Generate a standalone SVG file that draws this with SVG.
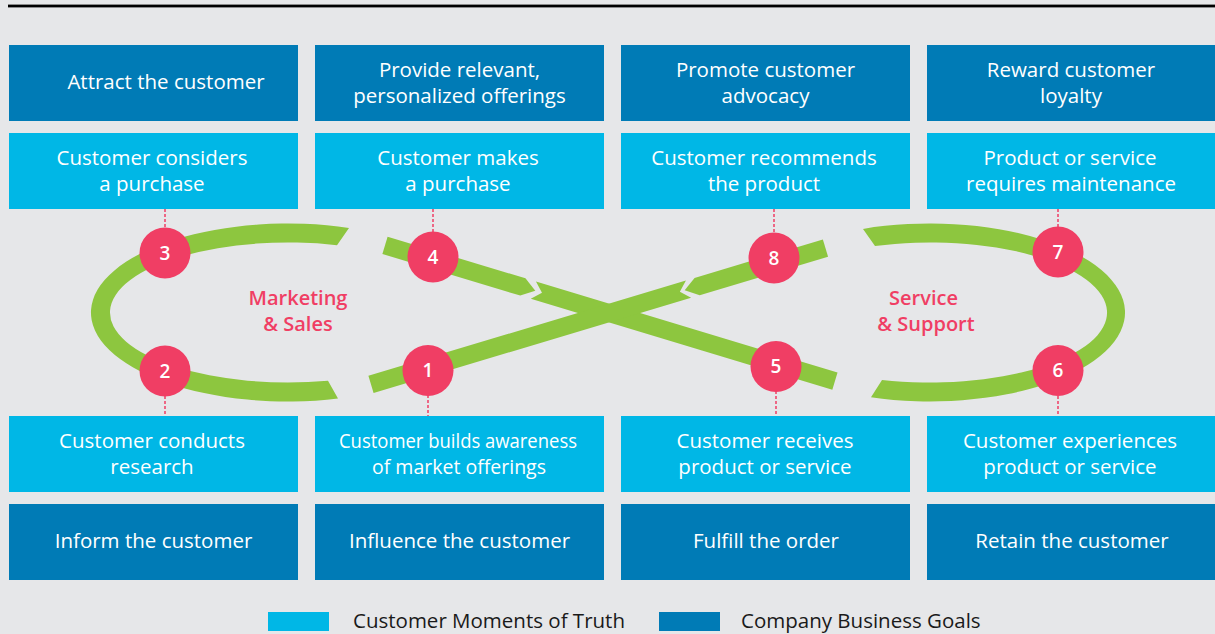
<svg xmlns="http://www.w3.org/2000/svg" width="1215" height="634" viewBox="0 0 1215 634">
<style>
.bg{fill:#e6e7e9}
.dark{fill:#007bb6}
.light{fill:#00b7e6}
.t{font-family:"Open Sans","Noto Sans","DejaVu Sans",sans-serif;font-size:20.5px;fill:#ffffff;text-anchor:middle}
.band{fill:#8dc63f}
.dot{stroke:#f03e64;stroke-width:1.5;stroke-dasharray:3 2;fill:none}
.num{fill:#f03e64}
.nt{font-family:"Open Sans","Noto Sans","DejaVu Sans",sans-serif;font-size:19px;font-weight:600;fill:#ffffff;text-anchor:middle}
.pk{font-family:"Open Sans","Noto Sans","DejaVu Sans",sans-serif;font-size:20px;font-weight:600;fill:#f03e64;text-anchor:middle}
.lg{font-family:"Open Sans","Noto Sans","DejaVu Sans",sans-serif;font-size:20.5px;fill:#1a1a1a}
</style>
<rect class="bg" x="0" y="0" width="1215" height="634"/>
<rect x="8" y="4" width="1207" height="1" fill="#8a8a8a"/>
<rect x="8" y="5" width="1207" height="2.4" fill="#000000"/>

<g id="loop">
<path class="band" d="M349,227.9 A197,89 0 1 0 338,398.6 L328,380.7 A178,70 0 1 1 337,245.2 Z"/>
<path class="band" d="M863,228.9 A195,89 0 1 1 871,397.3 L882,379.9 A177,70 0 1 0 875,246 Z"/>
<g transform="translate(609,313) rotate(16.8)">
<polygon class="band" points="-234,-9 -90,-9 -77,0 -90,9 -234,9"/>
<polygon class="band" points="-79,-9 236,-9 236,9 -79,9 -70,0"/>
</g>
<g transform="translate(609,313) rotate(-16.7)">
<polygon class="band" points="226,-9 92,-9 79,0 92,9 226,9"/>
<polygon class="band" points="-248.5,-9 83,-9 74,0 83,9 -248.5,9"/>
</g>
</g>

<g id="connectors">
<line class="dot" x1="165" y1="209" x2="165" y2="228"/>
<line class="dot" x1="165" y1="396" x2="165" y2="416"/>
<line class="dot" x1="433" y1="209" x2="433" y2="232"/>
<line class="dot" x1="428" y1="395" x2="428" y2="416"/>
<line class="dot" x1="774" y1="209" x2="774" y2="233"/>
<line class="dot" x1="776" y1="391" x2="776" y2="416"/>
<line class="dot" x1="1058" y1="209" x2="1058" y2="227"/>
<line class="dot" x1="1058" y1="396" x2="1058" y2="416"/>
</g>

<g id="goal-attract"><rect class="dark" x="9" y="45" width="289" height="76"/><text class="t" x="166" y="89">Attract the customer</text></g>
<g id="goal-provide"><rect class="dark" x="315" y="45" width="289" height="76"/><text class="t" x="459.5" y="76.5">Provide relevant,</text><text class="t" x="459.5" y="102.5">personalized offerings</text></g>
<g id="goal-promote"><rect class="dark" x="621" y="45" width="289" height="76"/><text class="t" x="765.5" y="76.5">Promote customer</text><text class="t" x="765.5" y="102.5">advocacy</text></g>
<g id="goal-reward"><rect class="dark" x="927" y="45" width="289" height="76"/><text class="t" x="1071" y="76.5">Reward customer</text><text class="t" x="1071" y="102.5">loyalty</text></g>

<g id="moment-considers"><rect class="light" x="9" y="133" width="289" height="76"/><text class="t" x="152" y="164.5">Customer considers</text><text class="t" x="152" y="190.5">a purchase</text></g>
<g id="moment-makes"><rect class="light" x="315" y="133" width="289" height="76"/><text class="t" x="458" y="164.5">Customer makes</text><text class="t" x="458" y="190.5">a purchase</text></g>
<g id="moment-recommends"><rect class="light" x="621" y="133" width="289" height="76"/><text class="t" x="764" y="164.5">Customer recommends</text><text class="t" x="764" y="190.5">the product</text></g>
<g id="moment-maintenance"><rect class="light" x="927" y="133" width="289" height="76"/><text class="t" x="1070" y="164.5">Product or service</text><text class="t" x="1071" y="190.5">requires maintenance</text></g>

<g id="moment-research"><rect class="light" x="9" y="416" width="289" height="76"/><text class="t" x="152" y="448">Customer conducts</text><text class="t" x="152" y="474">research</text></g>
<g id="moment-awareness"><rect class="light" x="315" y="416" width="289" height="76"/><text class="t" x="458" y="448" style="font-size:19.5px" textLength="238" lengthAdjust="spacingAndGlyphs">Customer builds awareness</text><text class="t" x="459" y="474" style="font-size:19.5px">of market offerings</text></g>
<g id="moment-receives"><rect class="light" x="621" y="416" width="289" height="76"/><text class="t" x="765" y="448">Customer receives</text><text class="t" x="765" y="474">product or service</text></g>
<g id="moment-experiences"><rect class="light" x="927" y="416" width="289" height="76"/><text class="t" x="1070" y="448">Customer experiences</text><text class="t" x="1070" y="474">product or service</text></g>

<g id="goal-inform"><rect class="dark" x="9" y="504" width="289" height="76"/><text class="t" x="153.5" y="548">Inform the customer</text></g>
<g id="goal-influence"><rect class="dark" x="315" y="504" width="289" height="76"/><text class="t" x="459.5" y="548">Influence the customer</text></g>
<g id="goal-fulfill"><rect class="dark" x="621" y="504" width="289" height="76"/><text class="t" x="766" y="548">Fulfill the order</text></g>
<g id="goal-retain"><rect class="dark" x="927" y="504" width="289" height="76"/><text class="t" x="1072" y="548">Retain the customer</text></g>

<g id="step-1"><circle class="num" cx="428" cy="370.5" r="25.5"/><text class="nt" x="428" y="377">1</text></g>
<g id="step-2"><circle class="num" cx="165" cy="371" r="25.5"/><text class="nt" x="165" y="377.5">2</text></g>
<g id="step-3"><circle class="num" cx="165" cy="253" r="25.5"/><text class="nt" x="165" y="259.5">3</text></g>
<g id="step-4"><circle class="num" cx="433" cy="257" r="25.5"/><text class="nt" x="433" y="263.5">4</text></g>
<g id="step-5"><circle class="num" cx="776" cy="366.5" r="25.5"/><text class="nt" x="776" y="373">5</text></g>
<g id="step-6"><circle class="num" cx="1058" cy="370.5" r="25.5"/><text class="nt" x="1058" y="377">6</text></g>
<g id="step-7"><circle class="num" cx="1058" cy="252" r="25.5"/><text class="nt" x="1058" y="258.5">7</text></g>
<g id="step-8"><circle class="num" cx="774" cy="258" r="25.5"/><text class="nt" x="774" y="264.5">8</text></g>

<g id="label-marketing"><text class="pk" x="298" y="305">Marketing</text><text class="pk" x="298" y="330.5">&amp; Sales</text></g>
<g id="label-service"><text class="pk" x="923.5" y="305">Service</text><text class="pk" x="926" y="330.5">&amp; Support</text></g>

<g id="legend">
<rect class="light" x="268" y="612" width="61" height="19"/>
<text class="lg" x="353" y="628">Customer Moments of Truth</text>
<rect class="dark" x="659" y="612" width="61" height="19"/>
<text class="lg" x="741" y="628">Company Business Goals</text>
</g>
</svg>
